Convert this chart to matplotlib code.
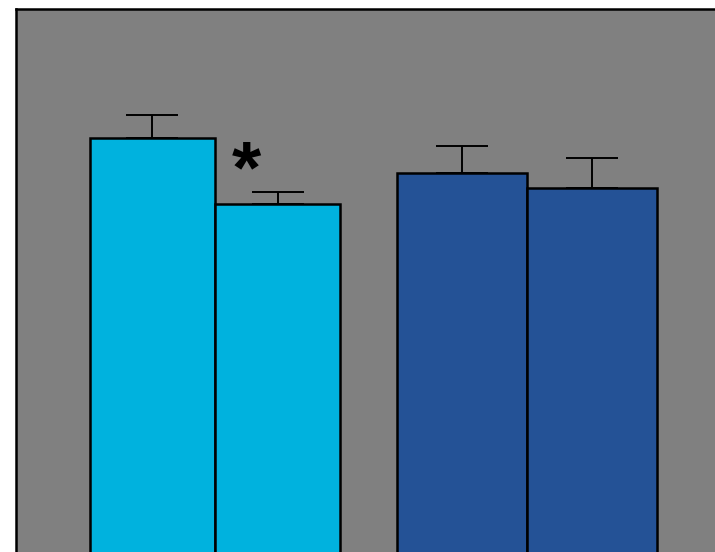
import matplotlib
matplotlib.use("Agg")
import matplotlib.pyplot as plt
import numpy as np

# Two groups, two bars each (values with upward SEM)
groups = [0, 1]
first_vals = [76.4, 70.0]
first_err = [4.2, 4.9]
second_vals = [64.3, 67.2]
second_err = [2.2, 5.5]
group_colors = ["#00B2DE", "#245296"]
group_widths = [0.402, 0.417]
yticks = [50]

W, H, DPI = 715, 552, 100
fig = plt.figure(figsize=(W / DPI, H / DPI), dpi=DPI)
fig.patch.set_facecolor("white")

# axes extends past the right and bottom edges of the canvas
left_px, right_px, top_px, bottom_px = 16, 740, 9, 555
ax = fig.add_axes([left_px / W, 1 - bottom_px / H,
                   (right_px - left_px) / W, (bottom_px - top_px) / H])
ax.set_facecolor("#808080")

x = np.array(groups, dtype=float)
for i in range(len(groups)):
    c = group_colors[i]
    width = group_widths[i]
    ax.bar(x[i] - width / 2, first_vals[i], width, color=c,
           edgecolor="black", linewidth=1.8, zorder=2)
    ax.bar(x[i] + width / 2, second_vals[i], width, color=c,
           edgecolor="black", linewidth=1.8, zorder=2)
    ax.errorbar(x[i] - width / 2, first_vals[i], yerr=[[0], [first_err[i]]],
                fmt="none", ecolor="black", elinewidth=1.4, capsize=18.4,
                capthick=1.4, zorder=1)
    ax.errorbar(x[i] + width / 2, second_vals[i], yerr=[[0], [second_err[i]]],
                fmt="none", ecolor="black", elinewidth=1.4, capsize=18.4,
                capthick=1.4, zorder=1)

# significance marker between the first pair
ax.text(0.10, 70.0, "*", ha="center", va="center", fontsize=54,
        fontweight="bold", family=["Liberation Sans", "DejaVu Sans"],
        color="black", zorder=3)

ax.set_xlim(-(215 - left_px) / 312, 1 + (right_px - 527) / 312)
ax.set_ylim(0, 100)
ax.set_xticks([])
ax.set_yticks(yticks)
ax.set_yticklabels([])
ax.tick_params(axis="y", length=2, width=1.2, color="white", direction="out")

for side in ["left", "top"]:
    ax.spines[side].set_linewidth(1.8)
    ax.spines[side].set_color("black")
for side in ["right", "bottom"]:
    ax.spines[side].set_visible(False)

fig.savefig("out.png", dpi=DPI)
